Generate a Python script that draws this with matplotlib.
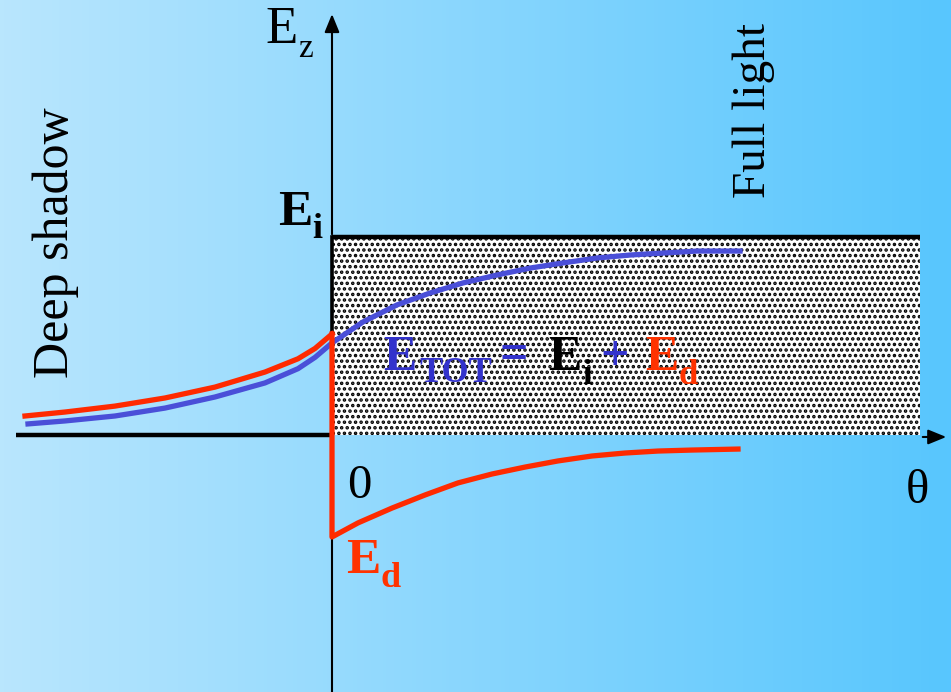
import numpy as np
import matplotlib as mpl
mpl.use('Agg')
import matplotlib.pyplot as plt
from matplotlib.patches import Rectangle

plt.rcParams['font.family'] = ['Liberation Serif', 'DejaVu Serif']
plt.rcParams['hatch.linewidth'] = 1.7

# curves (x = angle, y in units of E_i)
blue_x = [-3.04, -2.67, -2.17, -1.67, -1.17, -0.67, -0.34, -0.17, 0.0,
          0.31, 0.65, 0.98, 1.31, 1.65, 1.98, 2.31, 2.65, 2.98, 3.31, 3.65, 4.08]
blue_y = [0.056, 0.071, 0.096, 0.136, 0.192, 0.263, 0.335, 0.392, 0.465,
          0.571, 0.657, 0.717, 0.768, 0.808, 0.843, 0.869, 0.894, 0.909, 0.919, 0.929, 0.929]

red_left_x = [-3.07, -2.67, -2.17, -1.67, -1.17, -0.67, -0.34, -0.17, 0.0]
red_left_y = [0.096, 0.116, 0.146, 0.187, 0.242, 0.318, 0.385, 0.437, 0.51]

ed_x = [0.0, 0.0, 0.26, 0.60, 0.93, 1.26, 1.60, 1.93, 2.26, 2.60, 2.93, 3.26, 3.60, 4.06]
ed_y = [0.51, -0.515, -0.444, -0.369, -0.303, -0.242, -0.197, -0.162, -0.131,
        -0.106, -0.091, -0.081, -0.076, -0.071]

ei_level = 1.0
theta_end = 5.88

W, H = 951, 692
fig = plt.figure(figsize=(W / 100, H / 100), dpi=100)

# background gradient
bg = fig.add_axes([0, 0, 1, 1])
bg.axis('off')
c0 = np.array([185, 230, 253]) / 255
c1 = np.array([88, 198, 254]) / 255
t = np.linspace(0, 1, 256)
grad = (c0[None, :] * (1 - t[:, None]) + c1[None, :] * t[:, None])[None, :, :]
bg.imshow(grad, aspect='auto', extent=[0, 1, 0, 1])
bg.set_xlim(0, 1)
bg.set_ylim(0, 1)

# data axes: origin at pixel (332, 435), 100 px per x unit, 198 px per y unit
ax = fig.add_axes([0, 0, 1, 1])
ax.patch.set_alpha(0)
ax.axis('off')
ax.set_xlim(-332 / 100, (W - 332) / 100)
ax.set_ylim(-(H - 435) / 198, 435 / 198)

ax.add_patch(Rectangle((0, 0), theta_end, ei_level, facecolor='white',
                       edgecolor='black', linewidth=0, hatch='...', zorder=1))
ax.plot([0, theta_end], [ei_level, ei_level], color='black', lw=3.2,
        solid_capstyle='butt', zorder=2)
ax.plot([0, 0], [0, ei_level], color='black', lw=2.6, zorder=2)

# axes
ax.plot([-3.16, 0], [0, 0], color='black', lw=3.2, solid_capstyle='butt', zorder=2)
ax.annotate('', xy=(6.17, -0.01), xytext=(theta_end, -0.01),
            arrowprops=dict(arrowstyle='-|>,head_length=1.1,head_width=0.45',
                            color='black', lw=1.5), zorder=2)
ax.plot([0, 0], [-(H - 435) / 198, 0], color='black', lw=1.5, zorder=2)
ax.annotate('', xy=(0, 2.14), xytext=(0, ei_level),
            arrowprops=dict(arrowstyle='-|>,head_length=1.1,head_width=0.45',
                            color='black', lw=1.5), zorder=2)

ax.plot(blue_x, blue_y, color='#4a4fd8', lw=3.8, zorder=3)
ax.plot(red_left_x, red_left_y, color='#ff2a00', lw=3.8, zorder=4)
ax.plot(ed_x, ed_y, color='#ff2a00', lw=3.8, zorder=4)

# text overlay in pixel coordinates
tx = fig.add_axes([0, 0, 1, 1])
tx.patch.set_alpha(0)
tx.axis('off')
tx.set_xlim(0, W)
tx.set_ylim(H, 0)

blue_t = '#3333cc'
red_t = '#ff3300'

def put(x, y, s, size, color='black', bold=False, **kw):
    tx.text(x, y, s, fontsize=size, color=color, family='Liberation Serif',
            fontweight='bold' if bold else 'normal',
            ha='left', va='baseline', **kw)

put(265, 43, 'E', 38)
put(298, 57, 'z', 24)

put(68, 378, 'Deep shadow', 36, rotation=90, rotation_mode='anchor')
put(765, 198, 'Full light', 34, rotation=90, rotation_mode='anchor')

put(278, 225, 'E', 37, bold=True)
put(312, 238, 'i', 26, bold=True)

put(347, 498, '0', 35)
put(906, 503, 'θ', 35)

put(346, 573, 'E', 37, red_t, bold=True)
put(381, 587, 'd', 26, red_t, bold=True)

put(383, 370, 'E', 36, blue_t, bold=True)
put(419, 382, 'TOT', 25, blue_t, bold=True)
put(500, 368, '=', 36, blue_t, bold=True)
put(548, 370, 'E', 36, 'black', bold=True)
put(582, 384, 'i', 25, 'black', bold=True)
put(600, 370, '+', 36, blue_t, bold=True)
put(645, 370, 'E', 36, red_t, bold=True)
put(679, 384, 'd', 25, red_t, bold=True)

fig.savefig('out.png', dpi=100)
